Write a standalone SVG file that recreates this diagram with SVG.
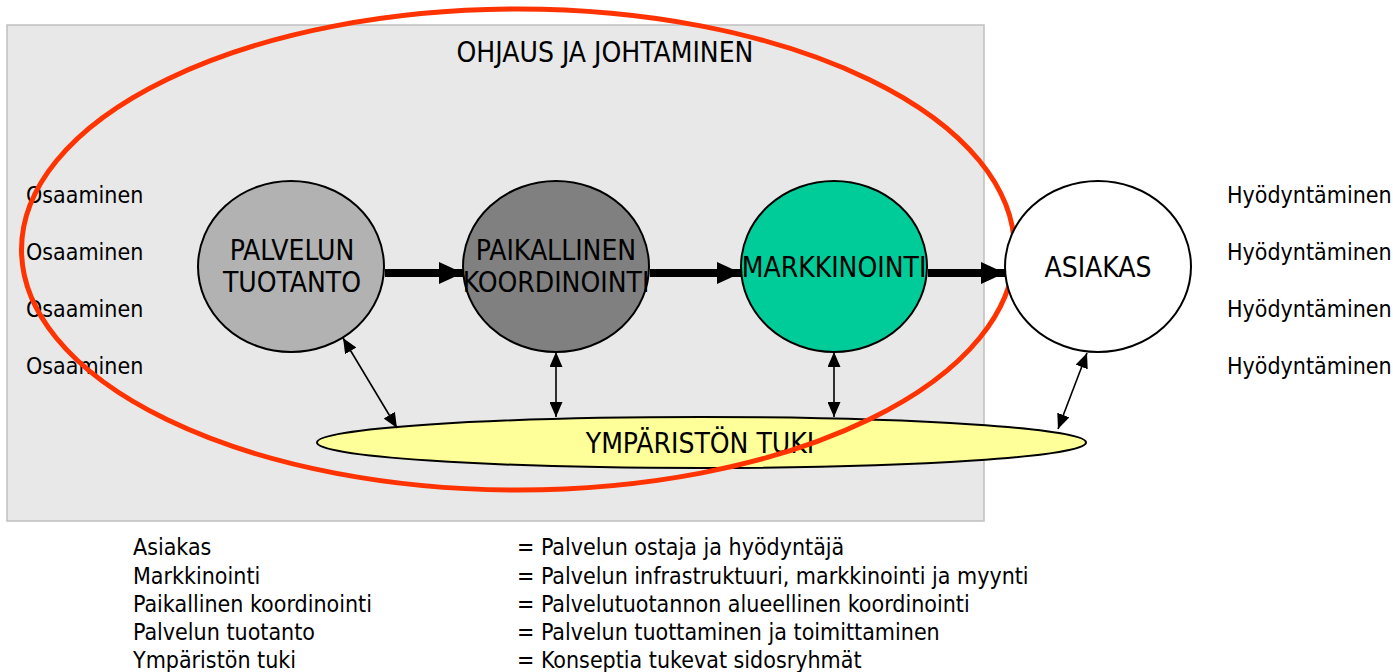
<svg xmlns="http://www.w3.org/2000/svg" width="1393" height="672" viewBox="0 0 1393 672">
  <style>
    text { font-family: "DejaVu Sans Condensed", "DejaVu Sans", sans-serif; font-stretch: condensed; fill: #000; }
    .big { font-size: 28px; text-anchor: middle; }
    .small { font-size: 23px; }
    .node { stroke: #000; stroke-width: 2; }
    .flow { stroke: #000; stroke-width: 8; fill: none; }
    .link { stroke: #000; stroke-width: 1.6; fill: none; marker-start: url(#tip); marker-end: url(#tip); }
  </style>
  <defs>
    <marker id="head" viewBox="0 0 24 24" refX="24" refY="12" markerWidth="24" markerHeight="24" markerUnits="userSpaceOnUse" orient="auto">
      <path d="M0,1 L24,12 L0,23 Z" fill="#000"/>
    </marker>
    <marker id="tip" viewBox="0 0 15 13" refX="15" refY="6.5" markerWidth="15" markerHeight="13" markerUnits="userSpaceOnUse" orient="auto-start-reverse">
      <path d="M0,0 L15,6.5 L0,13 Z" fill="#000"/>
    </marker>
  </defs>

  <!-- management frame -->
  <g id="frame">
    <rect x="7" y="25" width="977" height="496" fill="#e8e8e8" stroke="#c0c0c0" stroke-width="1.5"/>
    <text class="big" x="605" y="62">OHJAUS JA JOHTAMINEN</text>
  </g>

  <!-- side labels -->
  <g id="osaaminen">
    <text class="small" x="26" y="203">Osaaminen</text>
    <text class="small" x="26" y="260">Osaaminen</text>
    <text class="small" x="26" y="317">Osaaminen</text>
    <text class="small" x="26" y="374">Osaaminen</text>
  </g>
  <g id="hyodyntaminen">
    <text class="small" x="1227" y="203">Hyödyntäminen</text>
    <text class="small" x="1227" y="260">Hyödyntäminen</text>
    <text class="small" x="1227" y="317">Hyödyntäminen</text>
    <text class="small" x="1227" y="374">Hyödyntäminen</text>
  </g>

  <g id="palvelun-tuotanto">
    <ellipse class="node" cx="291" cy="266.5" rx="93" ry="85.5" fill="#b2b2b2"/>
    <text class="big" x="292" y="260">PALVELUN</text>
    <text class="big" x="292" y="292">TUOTANTO</text>
  </g>
  <g id="paikallinen-koordinointi">
    <ellipse class="node" cx="556" cy="266.5" rx="93" ry="85.5" fill="#808080"/>
    <text class="big" x="556" y="260">PAIKALLINEN</text>
    <text class="big" x="556" y="292">KOORDINOINTI</text>
  </g>
  <g id="markkinointi">
    <ellipse class="node" cx="834" cy="266.5" rx="93" ry="85.5" fill="#00cc99"/>
    <text class="big" x="834" y="277">MARKKINOINTI</text>
  </g>

  <g id="ympariston-tuki">
    <ellipse class="node" cx="701.5" cy="442.5" rx="384.5" ry="25.5" fill="#ffff99"/>
    <text class="big" x="700" y="453">YMPÄRISTÖN TUKI</text>
  </g>

  <!-- steering boundary -->
  <g id="ohjaus-raja">
    <ellipse cx="518" cy="249.5" rx="496.5" ry="240.5" fill="none" stroke="#ff3300" stroke-width="5"/>
  </g>

  <g id="asiakas">
    <ellipse class="node" cx="1098" cy="266.5" rx="93" ry="85.5" fill="#fff"/>
    <text class="big" x="1098" y="277">ASIAKAS</text>
  </g>

  <g id="connectors">
    <line class="flow" x1="385" y1="273" x2="463" y2="273" marker-end="url(#head)"/>
    <line class="flow" x1="650" y1="273" x2="741" y2="273" marker-end="url(#head)"/>
    <line class="flow" x1="928" y1="273" x2="1005" y2="273" marker-end="url(#head)"/>
    <line class="link" x1="343" y1="338" x2="397" y2="428"/>
    <line class="link" x1="556" y1="352" x2="556" y2="417"/>
    <line class="link" x1="834" y1="352" x2="834" y2="417"/>
    <line class="link" x1="1087" y1="353" x2="1058" y2="429"/>
  </g>

  <!-- legend -->
  <g id="legend">
    <text class="small" x="133" y="555">Asiakas</text>
    <text class="small" x="133" y="584">Markkinointi</text>
    <text class="small" x="133" y="612">Paikallinen koordinointi</text>
    <text class="small" x="133" y="640">Palvelun tuotanto</text>
    <text class="small" x="133" y="668">Ympäristön tuki</text>
    <text class="small" x="517" y="555">= Palvelun ostaja ja hyödyntäjä</text>
    <text class="small" x="517" y="584">= Palvelun infrastruktuuri, markkinointi ja myynti</text>
    <text class="small" x="517" y="612">= Palvelutuotannon alueellinen koordinointi</text>
    <text class="small" x="517" y="640">= Palvelun tuottaminen ja toimittaminen</text>
    <text class="small" x="517" y="668">= Konseptia tukevat sidosryhmät</text>
  </g>
</svg>
